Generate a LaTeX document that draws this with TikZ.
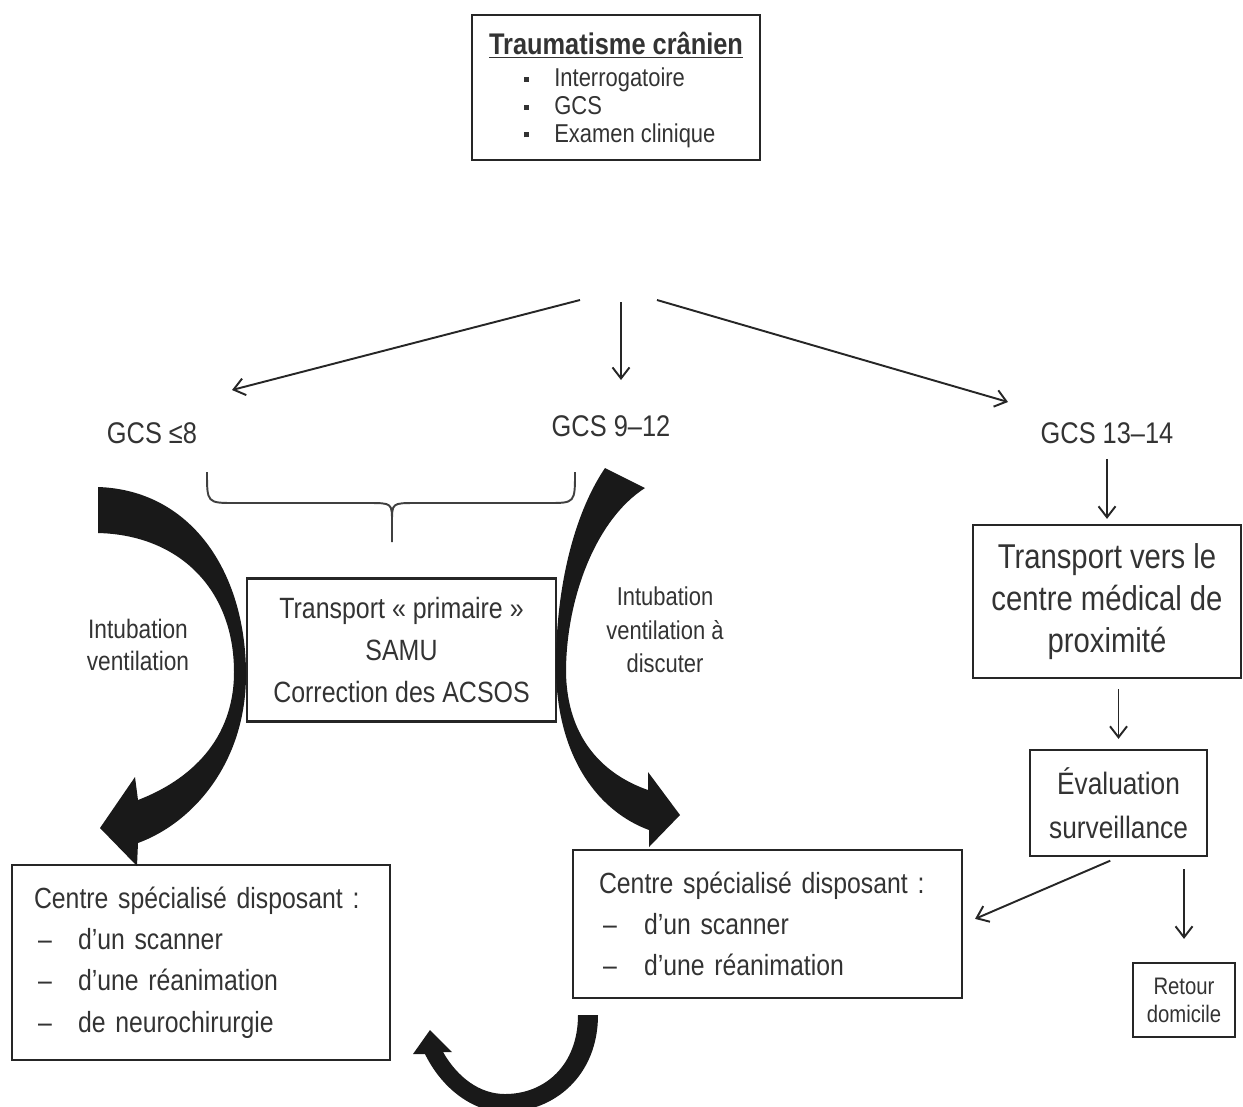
\documentclass[tikz,border=0pt]{standalone}
\usepackage{fontspec}
\setmainfont{Liberation Sans}[FakeStretch=0.85]
\usetikzlibrary{arrows.meta}

\tikzset{
  box/.style={draw=black!85, line width=1.3pt, text=black!80, inner sep=0pt, align=center},
  lbl/.style={text=black!80, align=center, inner sep=0pt},
  arr/.style={draw=black!85, line width=1.1pt, -{Straight Barb[length=0.22cm,width=0.34cm]}},
  bigarrow/.style={fill=black!90, draw=none},
}
\newcommand{\dashitem}[2]{\makebox[#1][l]{\hspace{0.08cm}--}#2}

\begin{document}
\begin{tikzpicture}[x=0.02cm, y=-0.02cm]
  \useasboundingbox (0,0) rectangle (1243,1106);

  % head injury box
  \node[box, minimum width=5.76cm, minimum height=2.9cm] (trauma) at (616,87.5) {};
  \node[lbl, font=\fontsize{17}{19}\selectfont\bfseries] (title) at (616,45) {\underline{Traumatisme crânien}};
  \node[lbl, anchor=west, align=left, font=\fontsize{14.7}{15.9}\selectfont] (checks) at (524,108)
    {\makebox[0.6cm][l]{\rule[0.2em]{0.1cm}{0.1cm}}Interrogatoire\\
     \makebox[0.6cm][l]{\rule[0.2em]{0.1cm}{0.1cm}}GCS\\
     \makebox[0.6cm][l]{\rule[0.2em]{0.1cm}{0.1cm}}Examen clinique};

  % GCS groups
  \node[lbl, font=\fontsize{17}{18}\selectfont] (g8) at (152,433) {GCS ≤8};
  \node[lbl, font=\fontsize{17}{18}\selectfont] (g912) at (611,426) {GCS 9–12};
  \node[lbl, font=\fontsize{17}{18}\selectfont] (g1314) at (1107,433) {GCS 13–14};

  \coordinate (sl) at (580,300);
  \coordinate (el) at (232,390);
  \coordinate (sm) at (621,302);
  \coordinate (em) at (621,380);
  \coordinate (sr) at (657,300);
  \coordinate (er) at (1008,402);
  \draw[arr] (sl) -- (el);
  \draw[arr] (sm) -- (em);
  \draw[arr] (sr) -- (er);

  % brace
  \draw[line width=1.1pt, draw=black!75]
    (207,472) .. controls (207,503) .. (235,503) -- (368,503)
    .. controls (392,503) .. (392,522) -- (392,542);
  \draw[line width=1.1pt, draw=black!75]
    (392,522) .. controls (392,503) .. (416,503) -- (548,503)
    .. controls (575,503) .. (575,472);

  % transport boxes
  \node[box, minimum width=6.18cm, minimum height=2.86cm, font=\fontsize{16.7}{23.8}\selectfont] (prim) at (401.5,650)
    {Transport «~primaire~»\\SAMU\\Correction des ACSOS};
  \node[box, minimum width=5.36cm, minimum height=3.06cm, font=\fontsize{19.6}{23.8}\selectfont] (prox) at (1107,601.5)
    {Transport vers le\\centre médical de\\proximité};
  \node[box, minimum width=3.54cm, minimum height=2.12cm, font=\fontsize{17.6}{24.9}\selectfont] (eval) at (1118.5,803)
    {Évaluation\\surveillance};
  \node[box, minimum width=2.04cm, minimum height=1.48cm, font=\fontsize{13.6}{15.9}\selectfont] (retour) at (1184,1000)
    {Retour\\domicile};

  % specialised centres
  \node[box, align=left, inner xsep=0.44cm, text width=6.68cm, minimum height=3.9cm, font=\fontsize{16.6}{23.5}\selectfont] (csg) at (201,962.5)
    {Centre spécialisé disposant~:\\
     \dashitem{0.88cm}{d'un scanner}\\
     \dashitem{0.88cm}{d'une réanimation}\\
     \dashitem{0.88cm}{de neurochirurgie}};
  \node[box, align=left, inner xsep=0.52cm, text width=6.74cm, minimum height=2.96cm, font=\fontsize{16.6}{23.5}\selectfont] (csd) at (767.5,924)
    {Centre spécialisé disposant~:\\
     \dashitem{0.9cm}{d'un scanner}\\
     \dashitem{0.9cm}{d'une réanimation}};

  % intubation labels
  \node[lbl, font=\fontsize{15.2}{18.7}\selectfont] (intl) at (138,645) {Intubation\\ventilation};
  \node[lbl, font=\fontsize{14.7}{19}\selectfont] (intr) at (665,630) {Intubation\\ventilation à\\discuter};

  % thin arrows, right branch
  \draw[arr, shorten <=0.3cm, shorten >=0.1cm] (g1314.south) -- (g1314.south |- prox.north);
  \draw[arr, shorten <=0.2cm, shorten >=0.2cm] (eval.north |- prox.south) -- (eval.north);
  \draw[arr, shorten <=0.24cm, shorten >=0.46cm] (retour.north |- eval.south) -- (retour.north);
  \draw[arr, shorten <=0.18cm, shorten >=0.26cm] (eval.south) -- (csd.east);

  % thick curved arrows
  \fill[bigarrow] (98,487) .. controls (190,490) and (245,570) .. (246,672)
    .. controls (247,760) and (195,822) .. (138,843)
    -- (137,866) -- (100,828) -- (135,777) -- (138,800)
    .. controls (190,780) and (234,740) .. (234,672)
    .. controls (234,590) and (180,535) .. (98,533) -- cycle;
  \fill[bigarrow] (605,468) .. controls (570,520) and (555,600) .. (556,672)
    .. controls (558,760) and (600,812) .. (649,830)
    -- (649,847) -- (680,815) -- (648,772) -- (648,790)
    .. controls (605,775) and (567,740) .. (566,672)
    .. controls (566,600) and (595,520) .. (645,488) -- cycle;
  \fill[bigarrow] (578,1015) -- (598,1015) .. controls (598,1075) and (555,1112) .. (505,1112)
    .. controls (470,1112) and (440,1085) .. (425,1054)
    -- (413,1054) -- (430,1030) -- (452,1052) -- (443,1052)
    .. controls (458,1078) and (480,1094) .. (505,1094)
    .. controls (545,1094) and (578,1065) .. (578,1015) -- cycle;
\end{tikzpicture}
\end{document}
